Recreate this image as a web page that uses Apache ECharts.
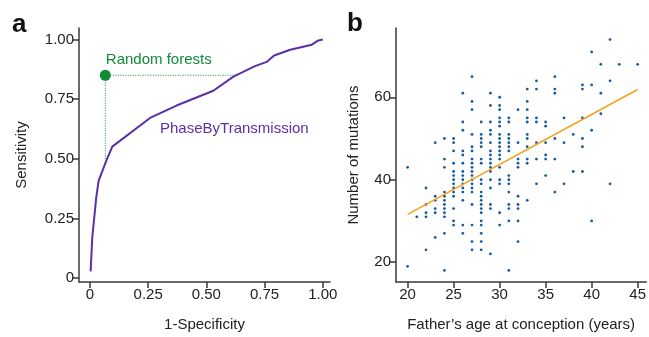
<!DOCTYPE html>
<html>
<head>
<meta charset="utf-8">
<script src="https://cdn.jsdelivr.net/npm/echarts@6/dist/echarts.min.js"></script>
<style>
html,body{margin:0;padding:0;background:#fff;}
#chart{width:649px;height:337px;}
</style>
</head>
<body>
<div id="chart"></div>
<script>
// panel a: ROC curve
const rocFpr = [0.003, 0.01, 0.027, 0.037, 0.069, 0.096, 0.258, 0.372, 0.53, 0.616, 0.709, 0.759, 0.791, 0.86, 0.953, 0.981, 1.0]
const rocTpr = [0.028, 0.17, 0.337, 0.406, 0.489, 0.551, 0.671, 0.723, 0.785, 0.844, 0.888, 0.906, 0.933, 0.957, 0.978, 0.996, 1.0]
const rfPoint = [0.066, 0.85]
const rfGuideEnds = [0.496, 0.636]   // where the dotted lines hit the curve (y of vertical, x of horizontal)
const rocTicks = [0, 0.25, 0.5, 0.75, 1]

// panel b: mutations vs father's age
const ages = [20, 21, 22, 23, 24, 25, 26, 27, 28, 29, 30, 31, 32, 33, 34, 35, 36, 37, 38, 39, 40, 41, 42, 43, 45]
const mutations = [
    [43, 19],
    [31],
    [38, 34, 32, 31, 23],
    [49, 36, 35, 33, 32, 26],
    [50, 45, 43, 37, 36, 35, 34, 33, 32, 31, 27, 18],
    [50, 49, 47, 44, 42, 41, 40, 39, 38, 37, 36, 33, 30, 29],
    [61, 54, 52, 47, 46, 44, 42, 41, 40, 39, 38, 37, 35, 29, 27],
    [65, 59, 57, 51, 48, 47, 45, 44, 43, 42, 41, 40, 39, 38, 37, 34, 29, 25, 23],
    [54, 51, 50, 49, 48, 45, 44, 40, 39, 37, 36, 35, 34, 33, 32, 30, 29, 27, 25, 23],
    [61, 58, 54, 52, 51, 49, 47, 46, 45, 44, 43, 42, 40, 38, 34, 33, 22],
    [60, 58, 57, 55, 54, 53, 51, 50, 49, 48, 47, 46, 45, 43, 40, 39, 32, 29],
    [55, 54, 51, 50, 49, 48, 47, 41, 40, 39, 37, 34, 33, 30, 18],
    [57, 49, 45, 44, 43, 36, 34, 33, 30, 25],
    [62, 59, 57, 55, 54, 51, 50, 48, 45, 44, 35],
    [64, 62, 55, 54, 49, 45, 39],
    [54, 53, 49, 46, 45, 41],
    [65, 62, 61, 50, 45, 37],
    [55, 49, 39],
    [51, 42],
    [63, 62, 55, 50, 48, 42],
    [71, 63, 52, 30],
    [68, 61, 56],
    [74, 64, 39],
    [68],
    [68]
]
const fitX = [20, 45]
const fitY = [31.6, 61.9]
const ageTicks = [20, 25, 30, 35, 40, 45]
const mutTicks = [20, 40, 60]

const FONT = 'Liberation Sans, Arial, Helvetica, sans-serif'
const axisCol = '#3a3a3a'
const purple = '#5a2fa8'
const green = '#0f8c36'

function axisBase(ticks, fmt){
    return {
        axisLine: {show: true, onZero: false, lineStyle: {color: axisCol, width: 1.5}},
        axisTick: {show: true, length: 6, customValues: ticks, lineStyle: {color: axisCol, width: 1.5}},
        axisLabel: {customValues: ticks, color: '#222', fontSize: 15, fontFamily: FONT, margin: 5, formatter: fmt},
        splitLine: {show: false},
        nameTextStyle: {color: '#222', fontSize: 15, fontFamily: FONT},
        nameLocation: 'middle'
    }
}
const rocFmt = v => v === 0 ? '0' : v.toFixed(2)

const scatterData = []
ages.forEach((a, i) => {
    mutations[i].forEach(m => scatterData.push([a, m]))
})

const myEcharts = echarts.init(document.getElementById('chart'), null, {renderer: 'canvas'})
myEcharts.setOption({
    animation: false,
    textStyle: {fontFamily: FONT},
    grid: [
        {left: 79, top: 28, width: 251, bottom: 51},
        {left: 396, top: 28, right: 0, bottom: 51}
    ],
    xAxis: [
        Object.assign(axisBase(rocTicks, rocFmt), {
            type: 'value', gridIndex: 0, min: -0.047, max: 1.031,
            name: '1-Specificity', nameGap: 35
        }),
        Object.assign(axisBase(ageTicks), {
            type: 'value', gridIndex: 1, min: 18.74, max: 45.94,
            name: 'Father\u2019s age at conception (years)', nameGap: 35
        })
    ],
    yAxis: [
        Object.assign(axisBase(rocTicks, rocFmt), {
            type: 'value', gridIndex: 0, min: -0.0165, max: 1.048,
            name: 'Sensitivity', nameGap: 50
        }),
        Object.assign(axisBase(mutTicks), {
            type: 'value', gridIndex: 1, min: 15.2, max: 76.8,
            name: 'Number of mutations', nameGap: 35
        })
    ],
    graphic: [
        {type: 'text', left: 12, top: 12, style: {text: 'a', font: 'bold 26px ' + FONT, fill: '#111'}},
        {type: 'text', left: 347, top: 11, style: {text: 'b', font: 'bold 26px ' + FONT, fill: '#111'}},
        {type: 'text', left: 160, top: 121, style: {text: 'PhaseByTransmission', font: '15px ' + FONT, fill: purple}}
    ],
    series: [
        {
            type: 'line', xAxisIndex: 0, yAxisIndex: 0,
            data: [rfPoint, [rfPoint[0], rfGuideEnds[0]]],
            symbol: 'none', lineStyle: {color: green, width: 1, type: [1, 1.5]}
        },
        {
            type: 'line', xAxisIndex: 0, yAxisIndex: 0,
            data: [rfPoint, [rfGuideEnds[1], rfPoint[1]]],
            symbol: 'none', lineStyle: {color: green, width: 1, type: [1, 1.5]}
        },
        {
            type: 'line', xAxisIndex: 0, yAxisIndex: 0,
            data: rocFpr.map((x, i) => [x, rocTpr[i]]),
            symbol: 'none', lineStyle: {color: purple, width: 2}
        },
        {
            type: 'scatter', xAxisIndex: 0, yAxisIndex: 0,
            data: [rfPoint], symbolSize: 11,
            itemStyle: {color: green, opacity: 1},
            label: {
                show: true, formatter: 'Random forests', position: [6, -10],
                align: 'left', verticalAlign: 'middle',
                color: green, fontSize: 15, fontFamily: FONT
            }
        },
        {
            type: 'scatter', xAxisIndex: 1, yAxisIndex: 1,
            data: scatterData, symbolSize: 2.8,
            itemStyle: {color: '#175aa3', opacity: 1}
        },
        {
            type: 'line', xAxisIndex: 1, yAxisIndex: 1,
            data: fitX.map((x, i) => [x, fitY[i]]),
            symbol: 'none', lineStyle: {color: '#f7a11a', width: 1.6}
        }
    ]
})
</script>
</body>
</html>
